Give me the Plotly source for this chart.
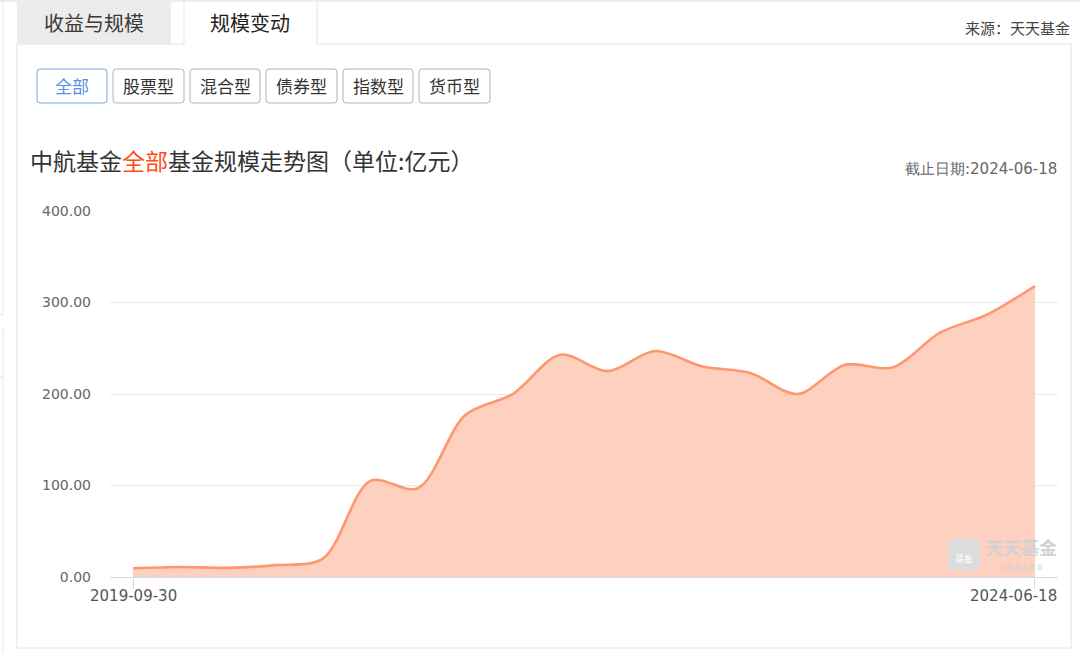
import plotly.graph_objects as go

# ---------------- data ----------------
dates = ["2019-09-30", "2019-12-31", "2020-03-31", "2020-06-30", "2020-09-30",
         "2020-12-31", "2021-03-31", "2021-06-30", "2021-09-30", "2021-12-31",
         "2022-03-31", "2022-06-30", "2022-09-30", "2022-12-31", "2023-03-31",
         "2023-06-30", "2023-09-30", "2023-12-31", "2024-03-31", "2024-06-18"]
scale = [9.5, 11, 10, 13, 20, 105, 97, 177, 200, 243,
         225, 247, 230, 223, 200, 232, 229, 267, 287, 318]
y_ticks = [0, 100, 200, 300, 400]
tabs = ["收益与规模", "规模变动"]
buttons = ["全部", "股票型", "混合型", "债券型", "指数型", "货币型"]
title_pre, title_hl, title_post = "中航基金", "全部", "基金规模走势图（单位:亿元）"
source_text = "来源：天天基金"
date_note = "截止日期:2024-06-18"

W, H = 1080, 654
PL, PR, PT, PB = 110, 1058, 211, 577  # plot area in pixels

CJK = "Noto Sans CJK SC, Noto Sans, sans-serif"
NUM = "DejaVu Sans, Verdana, sans-serif"


def px(x):
    return (x - PL) / (PR - PL)


def py(y):
    return (PB - y) / (PB - PT)


def rrect(x0, y0, x1, y1, r=3):
    X0, X1, Y0, Y1 = px(x0), px(x1), py(y0), py(y1)
    rx = r / (PR - PL)
    ry = r / (PB - PT)
    return (f"M{X0+rx},{Y0} L{X1-rx},{Y0} Q{X1},{Y0} {X1},{Y0-ry} "
            f"L{X1},{Y1+ry} Q{X1},{Y1} {X1-rx},{Y1} L{X0+rx},{Y1} "
            f"Q{X0},{Y1} {X0},{Y1+ry} L{X0},{Y0-ry} Q{X0},{Y0} {X0+rx},{Y0} Z")


fig = go.Figure()
fig.add_trace(go.Scatter(
    x=dates, y=scale, mode="lines",
    line=dict(color="#ff976e", width=2.6, shape="spline", smoothing=0.9),
    fill="tozeroy", fillcolor="rgba(253,196,176,0.8)",
    hoverinfo="x+y", showlegend=False,
))

shapes = []
annotations = []


def line(x0, y0, x1, y1, color="#e3e3e3", width=1):
    shapes.append(dict(type="line", xref="paper", yref="paper",
                       x0=px(x0), y0=py(y0), x1=px(x1), y1=py(y1),
                       line=dict(color=color, width=width), layer="below"))


def rect(x0, y0, x1, y1, fill, color=None, width=1):
    shapes.append(dict(type="rect", xref="paper", yref="paper",
                       x0=px(x0), y0=py(y0), x1=px(x1), y1=py(y1),
                       fillcolor=fill,
                       line=dict(color=color or fill, width=width if color else 0),
                       layer="below"))


def text(x, y, s, size, color="#333", xanchor="center", font=CJK, **kw):
    annotations.append(dict(xref="paper", yref="paper", x=px(x), y=py(y),
                             text=s, showarrow=False, xanchor=xanchor,
                             yanchor="middle",
                             font=dict(size=size, color=color, family=font), **kw))


# page frame
line(0, 1, 1080, 1, "#dcdcdc")
line(3, 0, 3, 315, "#e6e6e6")
line(0, 315, 3, 315, "#e6e6e6")
line(3, 328, 3, 654, "#e6e6e6")
line(0, 328, 3, 328, "#e6e6e6")
line(0, 377, 3, 377, "#e6e6e6")
# content box
line(17, 44, 17, 648, "#e3e3e3")
line(1071, 44, 1071, 648, "#e3e3e3")
line(17, 648, 1071, 648, "#e3e3e3")
line(17, 44, 184, 44, "#e3e3e3")
line(317, 44, 1071, 44, "#e3e3e3")
# tabs
rect(17, 2, 171, 44, "#ececec")
line(184, 2, 184, 44, "#e3e3e3")
line(317, 2, 317, 44, "#e3e3e3")
text(94, 22, tabs[0], 20, "#3a3a3a")
text(250, 22, tabs[1], 20, "#222")
text(1072, 27, source_text, 15, "#444", xanchor="right")

# buttons
btn_x = [(37, 107), (113, 184), (190, 260), (266, 337), (343, 413), (419, 490)]
for i, (b, (x0, x1)) in enumerate(zip(buttons, btn_x)):
    active = i == 0
    shapes.append(dict(type="path", xref="paper", yref="paper",
                       path=rrect(x0, 69, x1, 103),
                       fillcolor="white",
                       line=dict(color="#7aa5e6" if active else "#b4b4b4", width=1),
                       layer="below"))
    text((x0 + x1) / 2, 86, b, 17, "#5b8fdc" if active else "#333")

# title + date note
text(28, 160, f"{title_pre}<span style='color:#ff4a1c'>{title_hl}</span>{title_post}",
     23, "#333", xanchor="left")
text(1059, 169, date_note, 15, "#666", xanchor="right", font=NUM)

# watermark
shapes.append(dict(type="path", xref="paper", yref="paper",
                   path=rrect(948, 538, 980, 570, 6), fillcolor="#dcdcdc",
                   line=dict(width=0), layer="above"))
text(964, 558, "基金", 9, "white")
text(1021, 547, "<b>天天基金</b>", 18, "#d2d2d2")
text(1021, 566, "链 接 您 与 财 富", 6, "#d0d0d0")

# x-axis labels (edge label shifted inside like the original)
annotations.append(dict(xref="x", yref="paper", x=dates[0], y=py(596),
                        text=dates[0], showarrow=False, xanchor="center",
                        yanchor="middle", font=dict(size=15, color="#555", family=NUM)))
annotations.append(dict(xref="x", yref="paper", x=dates[-1], y=py(596),
                        text=dates[-1], showarrow=False, xanchor="right", xshift=24,
                        yanchor="middle", font=dict(size=15, color="#555", family=NUM)))

n = len(dates)
fig.update_layout(
    width=W, height=H,
    margin=dict(l=PL, r=W - PR, t=PT, b=H - PB, pad=0),
    paper_bgcolor="white", plot_bgcolor="white",
    shapes=shapes, annotations=annotations,
    showlegend=False,
    xaxis=dict(type="category", range=[-0.485, n - 1 + 0.485],
               showgrid=False, zeroline=False,
               showline=True, linecolor="#d5dcee", linewidth=1,
               ticks="outside", ticklen=11, tickcolor="#d5dcee", tickwidth=1,
               tickvals=[dates[0], dates[-1]], showticklabels=False,
               fixedrange=True),
    yaxis=dict(range=[0, 400], tickvals=y_ticks, tickformat=".2f",
               showgrid=True, gridcolor="#e8e8e8", gridwidth=1,
               zeroline=False, showline=False, ticks="",
               ticklabelstandoff=18,
               tickfont=dict(size=14, color="#666", family=NUM),
               fixedrange=True),
)

fig.write_html(
    "out.html",
    config={"displayModeBar": False},
    post_script="document.body.style.margin='0';document.body.style.padding='0';"
                "document.documentElement.style.overflow='hidden';",
)
